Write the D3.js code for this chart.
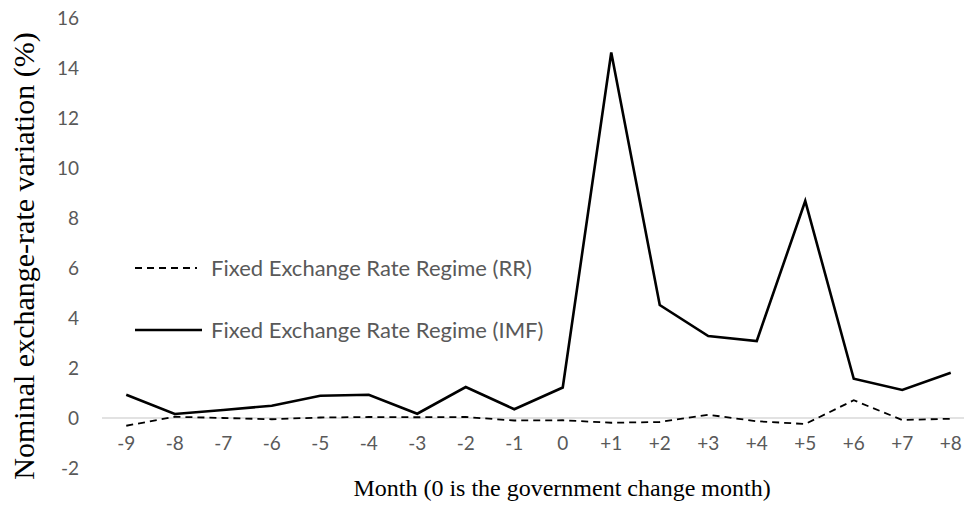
<!DOCTYPE html>
<html>
<head>
<meta charset="utf-8">
<script src="https://cdn.jsdelivr.net/npm/d3@7"></script>
<style>
  html, body { margin: 0; padding: 0; background: #fff; }
  svg { display: block; }
</style>
</head>
<body>
<div id="chart"></div>
<script>
// Data
const months = ["-9","-8","-7","-6","-5","-4","-3","-2","-1","0","+1","+2","+3","+4","+5","+6","+7","+8"];
const imfValues = [0.93, 0.16, 0.32, 0.49, 0.89, 0.93, 0.17, 1.24, 0.35, 1.22, 14.62, 4.52, 3.28, 3.08, 8.68, 1.57, 1.12, 1.81];
const rrValues  = [-0.31, 0.05, 0.0, -0.05, 0.02, 0.04, 0.03, 0.04, -0.1, -0.09, -0.19, -0.16, 0.13, -0.13, -0.24, 0.71, -0.08, -0.03];
const yTicks = [-2, 0, 2, 4, 6, 8, 10, 12, 14, 16];

const series = [
  { name: "Fixed Exchange Rate Regime (RR)",  values: rrValues,  dash: "7,5", width: 1.8 },
  { name: "Fixed Exchange Rate Regime (IMF)", values: imfValues, dash: null,  width: 2.6 }
];

const width = 964, height = 510;
const labelFont = "Lato, 'Open Sans', sans-serif";
const titleFont = "'Liberation Serif', 'Times New Roman', serif";
const grey = "#595959";

const svg = d3.select("#chart").append("svg")
  .attr("width", width)
  .attr("height", height);

// Scales
const x = d3.scaleBand()
  .domain(months)
  .range([102, 975]);

const y = d3.scaleLinear()
  .domain([-2, 16])
  .range([468, 18]);

const cx = d => x(d) + x.bandwidth() / 2;

// Zero line
svg.append("line")
  .attr("x1", 102).attr("x2", width)
  .attr("y1", y(0)).attr("y2", y(0))
  .attr("stroke", "#d9d9d9")
  .attr("stroke-width", 1.3);

// Y axis (labels only), plain hyphen for negatives like the original
const yAxis = d3.axisLeft(y)
  .tickValues(yTicks)
  .tickSize(0)
  .tickPadding(0)
  .tickFormat(d => String(d));

svg.append("g")
  .attr("transform", "translate(79,0)")
  .call(yAxis)
  .call(g => g.select(".domain").remove())
  .selectAll("text")
    .attr("font-family", labelFont)
    .attr("font-size", 19)
    .attr("fill", grey);

// X axis (labels only)
const xAxis = d3.axisBottom(x).tickSize(0).tickPadding(0);
svg.append("g")
  .attr("transform", "translate(0,436)")
  .call(xAxis)
  .call(g => g.select(".domain").remove())
  .selectAll("text")
    .attr("font-family", labelFont)
    .attr("font-size", 19)
    .attr("fill", grey);

// Lines
const line = d3.line()
  .x((d, i) => cx(months[i]))
  .y(d => y(d));

series.forEach(s => {
  svg.append("path")
    .datum(s.values)
    .attr("d", line)
    .attr("fill", "none")
    .attr("stroke", "#000")
    .attr("stroke-width", s.width)
    .attr("stroke-linejoin", "miter")
    .attr("stroke-dasharray", s.dash);
});

// Legend
const legendY = [268, 330];
const legendLen = [62, 67];
series.forEach((s, i) => {
  svg.append("line")
    .attr("x1", 135).attr("x2", 135 + legendLen[i])
    .attr("y1", legendY[i]).attr("y2", legendY[i])
    .attr("stroke", "#000")
    .attr("stroke-width", s.width)
    .attr("stroke-dasharray", s.dash);
  svg.append("text")
    .attr("x", 211)
    .attr("y", legendY[i])
    .attr("dy", "0.35em")
    .attr("font-family", labelFont)
    .attr("font-size", 22)
    .attr("fill", grey)
    .text(s.name);
});

// Axis titles
svg.append("text")
  .attr("x", 562)
  .attr("y", 496)
  .attr("text-anchor", "middle")
  .attr("font-family", titleFont)
  .attr("font-size", 24)
  .attr("fill", "#000")
  .text("Month (0 is the government change month)");

svg.append("text")
  .attr("transform", "translate(34,256) rotate(-90)")
  .attr("text-anchor", "middle")
  .attr("font-family", titleFont)
  .attr("font-size", 30)
  .attr("fill", "#000")
  .text("Nominal exchange-rate variation (%)");
</script>
</body>
</html>
